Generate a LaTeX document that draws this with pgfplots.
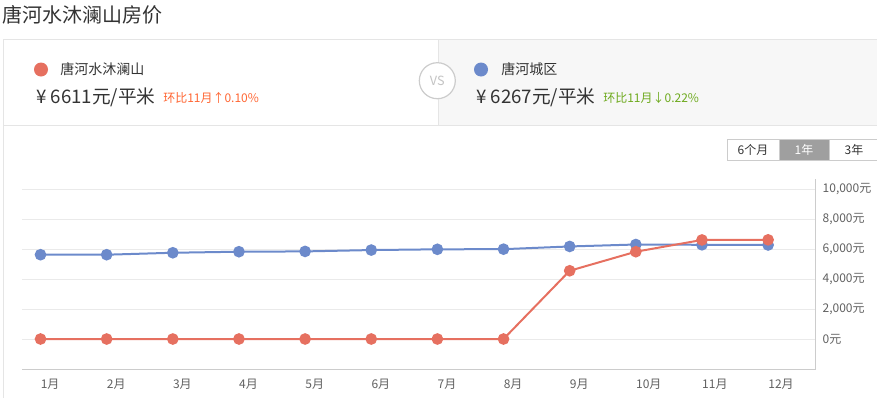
\documentclass[border=0pt]{standalone}
\usepackage{fontspec}
\setmainfont{Noto Sans CJK SC}
\usepackage{pgfplots}
\pgfplotsset{compat=1.18}
\definecolor{cred}{RGB}{230,112,96}
\definecolor{cblue}{RGB}{108,138,203}
\definecolor{ctext}{RGB}{51,51,51}
\definecolor{ctick}{RGB}{96,96,96}
\definecolor{cborder}{RGB}{229,229,229}
\definecolor{cbg}{RGB}{247,247,247}
\definecolor{cgrid}{RGB}{234,234,234}
\definecolor{caxis}{RGB}{204,204,204}
\definecolor{corange}{RGB}{255,102,51}
\definecolor{cgreen}{RGB}{110,170,30}
\pgfplotstableread{
m blue red
1 5620 0
2 5620 0
3 5750 0
4 5820 0
5 5840 0
6 5930 0
7 5980 0
8 5990 0
9 6170 4550
10 6300 5820
11 6281 6604
12 6267 6611
}\datatable
\begin{document}
\begin{tikzpicture}
\path[use as bounding box] (0,0) rectangle (657.75pt,-297.75pt);
\begin{scope}[x=0.75pt,y=-0.75pt]
\fill[cbg] (438,39) rectangle (877,125);
\draw[cborder, line width=0.75pt] (3,397.5) -- (3,39) -- (877,39);
\draw[cborder, line width=0.75pt] (3,125) -- (877,125);
\draw[cborder, line width=0.75pt] (438,39) -- (438,125);
\node[anchor=west, font=\fontsize{15pt}{15pt}\selectfont, text=ctext, inner sep=0] at (2,15) {唐河水沐澜山房价};
% left panel
\fill[cred] (41,69.5) circle (7);
\node[anchor=west, font=\fontsize{10.5pt}{10.5pt}\selectfont, text=ctext, inner sep=0] at (60,69.5) {唐河水沐澜山};
\node[anchor=base west, font=\fontsize{14pt}{14pt}\selectfont, text=ctext, inner sep=0] at (36,103) {¥ 6611元/平米};
\node[anchor=base west, font=\fontsize{9pt}{9pt}\selectfont, text=corange, inner sep=0] at (163,102) {环比11月↑0.10\%};
% right panel
\fill[cblue] (481,69.5) circle (7);
\node[anchor=west, font=\fontsize{10.5pt}{10.5pt}\selectfont, text=ctext, inner sep=0] at (501,69.5) {唐河城区};
\node[anchor=base west, font=\fontsize{14pt}{14pt}\selectfont, text=ctext, inner sep=0] at (476,103) {¥ 6267元/平米};
\node[anchor=base west, font=\fontsize{9pt}{9pt}\selectfont, text=cgreen, inner sep=0] at (603,102) {环比11月↓0.22\%};
% VS circle
\draw[fill=white, draw=caxis, line width=0.9pt] (437.3,80.7) circle (18);
\node[font=\fontsize{9.5pt}{9.5pt}\selectfont, text=caxis!90!gray] at (437.3,80.7) {VS};
% buttons
\fill[gray!75] (779,139.5) rectangle (829,160.5);
\draw[caxis, line width=0.75pt] (727.5,139.5) rectangle (877.5,160.5);
\draw[caxis, line width=0.75pt] (779,139.5) -- (779,160.5) (829,139.5) -- (829,160.5);
\node[font=\fontsize{9pt}{9pt}\selectfont, text=ctext] at (753,150) {6个月};
\node[font=\fontsize{9pt}{9pt}\selectfont, text=white] at (804,150) {1年};
\node[font=\fontsize{9pt}{9pt}\selectfont, text=ctext] at (854,150) {3年};
\end{scope}
\begin{axis}[
  at={(16.5pt,-276.75pt)}, anchor=south west,
  scale only axis, width=595.3pt, height=142.5pt,
  xmin=0.72, xmax=12.72, ymin=-2000, ymax=10667,
  axis x line*=bottom, axis y line*=right,
  axis line style={draw=caxis, line width=0.75pt, -},
  xtick={1,...,12},
  xticklabels={1月,2月,3月,4月,5月,6月,7月,8月,9月,10月,11月,12月},
  major tick length=0,
  scaled y ticks=false,
  xticklabel style={anchor=north west, inner sep=0pt, yshift=-7pt, font=\fontsize{9pt}{9pt}\selectfont, text=ctick},
  ytick={0,2000,4000,6000,8000,10000},
  yticklabels={{0元},{2,000元},{4,000元},{6,000元},{8,000元},{10,000元}},
  yticklabel style={anchor=west, inner sep=0pt, xshift=5pt, font=\fontsize{9pt}{9pt}\selectfont, text=ctick},
  ymajorgrids, grid style={draw=cgrid, line width=0.75pt},
  clip=false,
]
\addplot[cblue, line width=1.5pt, mark=*, mark size=3.6pt, mark options={fill=cblue, draw=cblue}] table[x=m, y=blue] {\datatable};
\addplot[cred, line width=1.5pt, mark=*, mark size=3.6pt, mark options={fill=cred, draw=cred}] table[x=m, y=red] {\datatable};
\end{axis}
\end{tikzpicture}
\end{document}
